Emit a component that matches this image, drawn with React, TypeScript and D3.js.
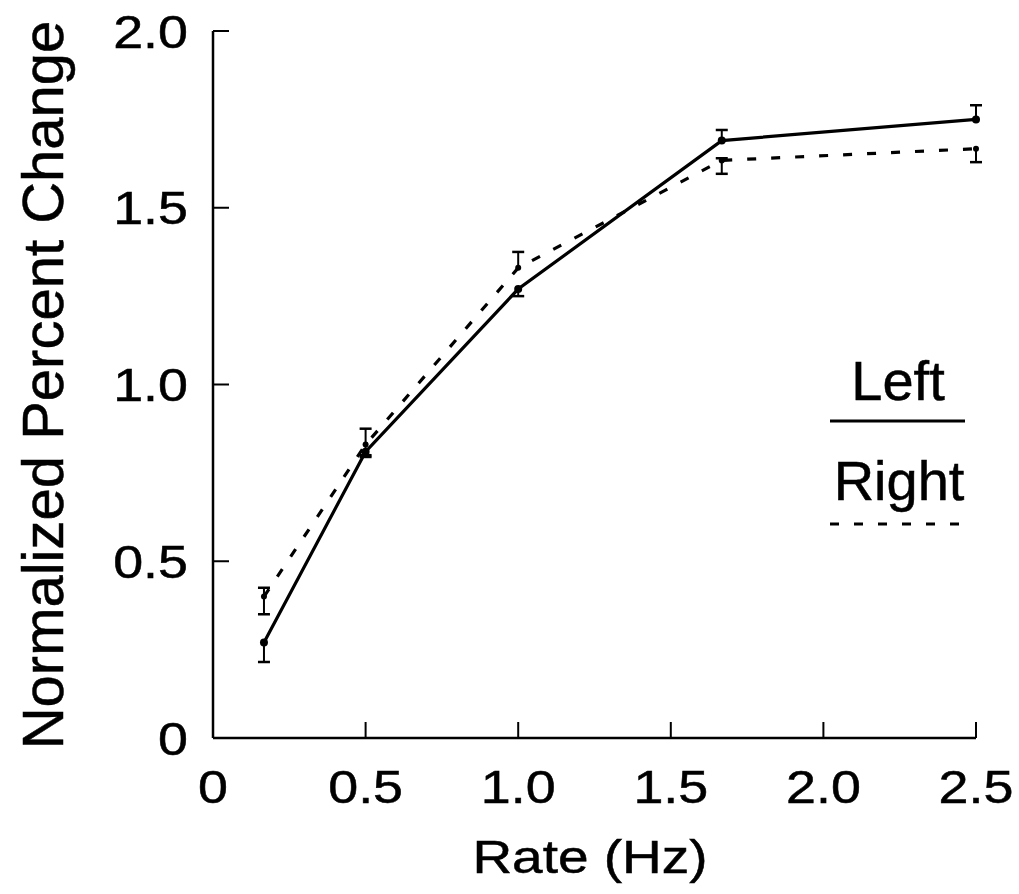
import { useEffect, useRef } from 'react';
import * as d3 from 'd3';

const RATES = [0.167, 0.5, 1.0, 1.667, 2.5];
const LEFT_MEAN = [0.27, 0.81, 1.27, 1.69, 1.75];
const LEFT_LO = [0.215, 0.795, 1.25, 1.69, 1.75];
const LEFT_HI = [0.27, 0.81, 1.27, 1.72, 1.79];
const RIGHT_MEAN = [0.4, 0.83, 1.33, 1.634, 1.667];
const RIGHT_LO = [0.35, 0.8, 1.33, 1.596, 1.629];
const RIGHT_HI = [0.425, 0.875, 1.375, 1.64, 1.667];

const X_TICKS = [0, 0.5, 1.0, 1.5, 2.0, 2.5];
const X_TICK_LABELS = ['0', '0.5', '1.0', '1.5', '2.0', '2.5'];
const Y_TICKS = [0, 0.5, 1.0, 1.5, 2.0];
const Y_TICK_LABELS = ['0', '0.5', '1.0', '1.5', '2.0'];

const FONT = '"Liberation Sans", Arial, Helvetica, sans-serif';
const DASH = '9,15';

export default function App() {
  const svgRef = useRef<SVGSVGElement | null>(null);

  useEffect(() => {
    if (!svgRef.current) return;
    const width = 1019;
    const height = 894;
    const svg = d3.select(svgRef.current);
    svg.selectAll('*').remove();
    svg.attr('width', width).attr('height', height);

    const x = d3.scaleLinear().domain([0, 2.5]).range([213, 976]);
    const y = d3.scaleLinear().domain([0, 2]).range([738, 31]);
    const tick = 16;

    // text looks a little heavy in the scan, so give it a thin outline
    const label = (sel: any) => sel.attr('font-family', FONT).attr('fill', '#000')
      .attr('stroke', '#000').attr('stroke-width', 0.5);

    // Axes (ticks point inward)
    const axes = svg.append('g').attr('stroke', '#000').attr('stroke-width', 2.5).attr('fill', 'none');
    axes.append('line').attr('x1', x(0)).attr('x2', x(0)).attr('y1', y(0)).attr('y2', y(2));
    axes.append('line').attr('x1', x(0)).attr('x2', x(2.5)).attr('y1', y(0)).attr('y2', y(0));
    Y_TICKS.filter(v => v > 0).forEach(v => {
      axes.append('line').attr('x1', x(0)).attr('x2', x(0) + tick).attr('y1', y(v)).attr('y2', y(v))
        .attr('stroke-width', 2);
    });
    X_TICKS.filter(v => v > 0).forEach(v => {
      axes.append('line').attr('x1', x(v)).attr('x2', x(v)).attr('y1', y(0)).attr('y2', y(0) - tick)
        .attr('stroke-width', 2);
    });

    // Tick labels
    X_TICKS.forEach((v, i) => {
      svg.append('text')
        .attr('transform', `translate(${x(v)},803) scale(1.17,1)`)
        .attr('text-anchor', 'middle').attr('font-size', 46)
        .call(label)
        .text(X_TICK_LABELS[i]);
    });
    Y_TICKS.forEach((v, i) => {
      svg.append('text')
        .attr('transform', `translate(188,${y(v)}) scale(1.17,1)`)
        .attr('text-anchor', 'end').attr('dy', '0.36em').attr('font-size', 46)
        .call(label)
        .text(Y_TICK_LABELS[i]);
    });

    // Axis titles
    svg.append('text')
      .attr('transform', `translate(590,873) scale(1.17,1)`)
      .attr('text-anchor', 'middle').attr('font-size', 47)
      .call(label)
      .text('Rate (Hz)');
    svg.append('text')
      .attr('transform', 'translate(63,385) rotate(-90)')
      .attr('text-anchor', 'middle').attr('font-size', 58)
      .call(label)
      .text('Normalized Percent Change');

    const line = d3.line<number>().x((_, i) => x(RATES[i])).y(d => y(d));

    const series = [
      { mean: LEFT_MEAN, lo: LEFT_LO, hi: LEFT_HI, dash: null, r: 4 },
      { mean: RIGHT_MEAN, lo: RIGHT_LO, hi: RIGHT_HI, dash: DASH, r: 3 },
    ];

    series.forEach(s => {
      svg.append('path').datum(s.mean).attr('d', line)
        .attr('fill', 'none').attr('stroke', '#000').attr('stroke-width', 3.2)
        .attr('stroke-dasharray', s.dash);

      // error bars
      s.mean.forEach((m, i) => {
        const cx = x(RATES[i]);
        if (s.hi[i] - s.lo[i] > 0.005) {
          svg.append('line').attr('x1', cx).attr('x2', cx).attr('y1', y(s.lo[i])).attr('y2', y(s.hi[i]))
            .attr('stroke', '#000').attr('stroke-width', 2);
        }
        [s.lo[i], s.hi[i]].forEach(e => {
          if (Math.abs(e - m) > 0.005) {
            svg.append('line').attr('x1', cx - 6).attr('x2', cx + 6).attr('y1', y(e)).attr('y2', y(e))
              .attr('stroke', '#000').attr('stroke-width', 2.5);
          }
        });
        svg.append('circle').attr('cx', cx).attr('cy', y(m)).attr('r', s.r).attr('fill', '#000');
      });
    });

    // Legend
    svg.append('text').attr('x', 898).attr('y', 400).attr('text-anchor', 'middle')
      .attr('font-size', 56).call(label).text('Left');
    svg.append('line').attr('x1', 830).attr('x2', 965).attr('y1', 421).attr('y2', 421)
      .attr('stroke', '#000').attr('stroke-width', 3);
    svg.append('text').attr('x', 899).attr('y', 500).attr('text-anchor', 'middle')
      .attr('font-size', 56).call(label).text('Right');
    svg.append('line').attr('x1', 830).attr('x2', 965).attr('y1', 524).attr('y2', 524)
      .attr('stroke', '#000').attr('stroke-width', 3).attr('stroke-dasharray', DASH);
  }, []);

  return (
    <div style={{ position: 'absolute', left: 0, top: 0, width: 1019, height: 894, background: '#fff' }}>
      <svg ref={svgRef} style={{ display: 'block' }} />
    </div>
  );
}
